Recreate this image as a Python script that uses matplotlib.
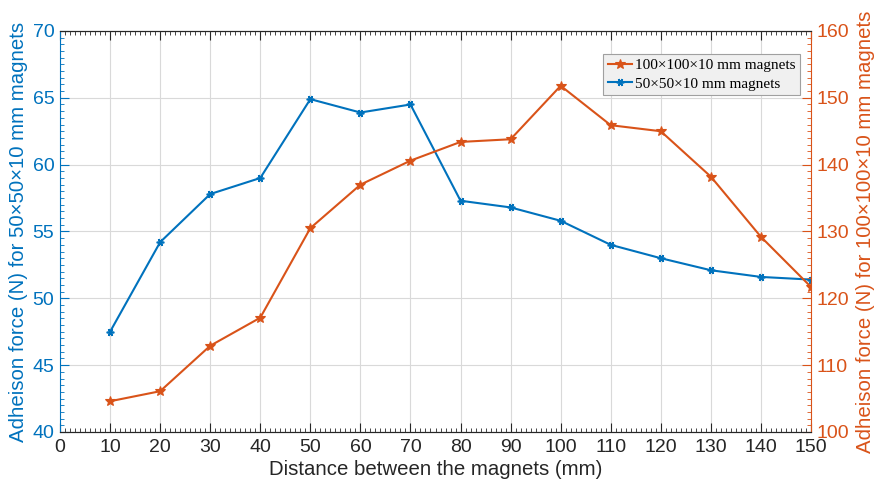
import matplotlib
matplotlib.use('Agg')
from matplotlib import pyplot as plt
from matplotlib.ticker import MultipleLocator

plt.rcParams['font.family'] = ['Liberation Sans', 'DejaVu Sans']

# distance between magnets (mm)
distance = [10, 20, 30, 40, 50, 60, 70, 80, 90, 100, 110, 120, 130, 140, 150]
# adhesion force (N), 50x50x10 mm magnets (left axis)
force_50 = [47.5, 54.2, 57.8, 59.0, 64.9, 63.9, 64.5, 57.3, 56.8, 55.8, 54.0, 53.0, 52.1, 51.6, 51.4]
# adhesion force (N), 100x100x10 mm magnets (right axis)
force_100 = [104.6, 106.1, 112.9, 117.1, 130.5, 137.0, 140.6, 143.4, 143.8, 151.8, 145.9, 145.0, 138.2, 129.2, 121.7]

blue = '#0072BD'
orange = '#D95319'
dark = '#262626'

fig = plt.figure(figsize=(8.76, 4.91), dpi=100)
ax1 = fig.add_axes([0.0685, 0.1202, 0.8573, 0.8167])
ax2 = ax1.twinx()

l1, = ax1.plot(distance, force_50, '-', color=blue, lw=1.5,
               marker=(6, 2, 90), ms=5.5, mew=1.2, label='50×50×10 mm magnets')
l2, = ax2.plot(distance, force_100, '-', color=orange, lw=1.5,
               marker='*', ms=7, mew=0.8, label='100×100×10 mm magnets')

ax1.set_xlim(0, 150)
ax1.set_ylim(40, 70)
ax2.set_ylim(100, 160)

ax1.xaxis.set_major_locator(MultipleLocator(10))
ax1.xaxis.set_minor_locator(MultipleLocator(1))
ax1.yaxis.set_major_locator(MultipleLocator(5))
ax1.yaxis.set_minor_locator(MultipleLocator(0.5))
ax2.yaxis.set_major_locator(MultipleLocator(10))
ax2.yaxis.set_minor_locator(MultipleLocator(1))

ax1.grid(True, which='major', color='#d9d9d9', lw=0.8)
ax1.set_axisbelow(True)

# ticks in MATLAB style
ax1.tick_params(axis='x', which='both', direction='in', top=True, bottom=True,
                colors=dark, labelsize=14, pad=5)
ax1.tick_params(axis='x', which='major', length=6.5, width=0.8)
ax1.tick_params(axis='x', which='minor', length=3, width=0.6)
ax1.tick_params(axis='y', which='both', direction='in', left=True, right=False,
                colors=blue, labelsize=14, pad=4)
ax1.tick_params(axis='y', which='major', length=6.5, width=0.8)
ax1.tick_params(axis='y', which='minor', length=3, width=0.6)
ax2.tick_params(axis='y', which='both', direction='in', colors=orange,
                labelsize=14, pad=4)
ax2.tick_params(axis='y', which='major', length=6.5, width=0.8)
ax2.tick_params(axis='y', which='minor', length=3, width=0.6)

for ax in (ax1, ax2):
    ax.spines['top'].set_color(dark)
    ax.spines['bottom'].set_color(dark)
    ax.spines['top'].set_linewidth(0.8)
    ax.spines['bottom'].set_linewidth(0.8)
ax1.spines['left'].set_color(blue)
ax1.spines['right'].set_visible(False)
ax2.spines['left'].set_visible(False)
ax2.spines['right'].set_color(orange)

ax1.set_xlabel('Distance between the magnets (mm)', fontsize=14.7, color=dark, labelpad=3)
ax1.set_ylabel('Adheison force (N) for 50×50×10 mm magnets', fontsize=14.7, color=blue, labelpad=3)
ax2.set_ylabel('Adheison force (N) for 100×100×10 mm magnets', fontsize=14.7, color=orange, labelpad=5)

leg = ax2.legend(handles=[l2, l1], loc='upper right', bbox_to_anchor=(0.99, 0.95),
                 prop={'family': 'Liberation Serif', 'size': 11},
                 fancybox=False, framealpha=1, edgecolor='#a0a0a0',
                 facecolor='#f0f0f0', handlelength=1.6, handletextpad=0.2,
                 borderpad=0.3, labelspacing=0.3, borderaxespad=0.2)
leg.get_frame().set_linewidth(0.8)

fig.savefig('out.png', dpi=100)
